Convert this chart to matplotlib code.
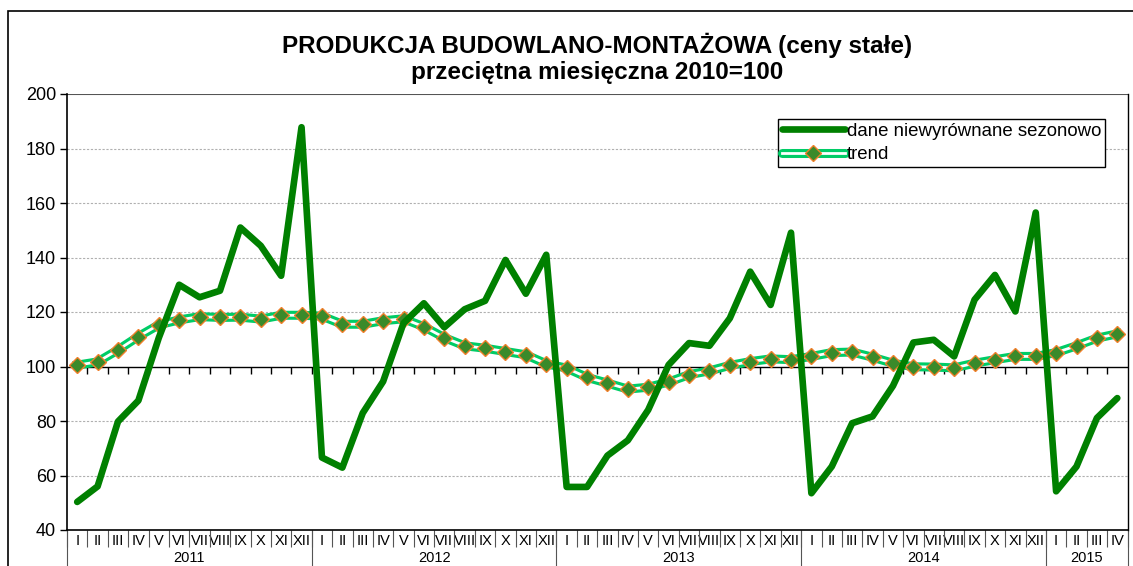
# Produkcja budowlano-montazowa 2011-2015, dane miesieczne (2010=100)
import matplotlib
matplotlib.use("Agg")
import matplotlib.pyplot as plt
from matplotlib.lines import Line2D
from matplotlib.patches import Rectangle
import numpy as np

plt.rcParams['font.family'] = ['Liberation Sans', 'DejaVu Sans']

months = ["I", "II", "III", "IV", "V", "VI", "VII", "VIII", "IX", "X", "XI", "XII"]
years = ["2011", "2012", "2013", "2014", "2015"]
months_per_year = [12, 12, 12, 12, 4]

# dane niewyrownane sezonowo
unadjusted = [50.3, 56.0, 79.8, 87.5, 110.5, 130.0, 125.4, 127.8, 151.0, 144.3, 133.3, 187.8,
              66.6, 62.9, 82.9, 94.5, 115.9, 123.2, 114.4, 121.0, 124.1, 139.1, 126.7, 141.0,
              55.8, 55.8, 67.3, 72.9, 84.1, 100.6, 108.6, 107.6, 117.7, 134.8, 122.6, 149.1,
              53.5, 63.3, 79.2, 81.7, 92.9, 108.8, 109.8, 103.7, 124.5, 133.6, 120.2, 156.5,
              54.2, 63.3, 81.1, 88.4]

trend = [100.5, 101.7, 106.1, 111.0, 115.3, 117.1, 118.3, 118.0, 118.1, 117.4, 118.8, 118.8,
         118.5, 115.5, 115.5, 116.8, 117.5, 114.6, 110.6, 107.6, 106.7, 105.5, 104.3, 101.0,
         99.4, 96.0, 93.9, 91.7, 92.4, 94.3, 97.0, 98.4, 100.4, 101.8, 102.8, 102.5,
         103.7, 105.1, 105.3, 103.4, 101.2, 99.9, 99.8, 99.5, 101.2, 102.5, 103.7, 103.7,
         105.1, 107.6, 110.4, 112.0]

month_labels = []
for n in months_per_year:
    month_labels += months[:n]

x = np.arange(len(unadjusted))
dark_green = "#008000"
light_green = "#00CC66"

fig = plt.figure(figsize=(11.33, 5.66), dpi=100)
ax = fig.add_axes([67 / 1133, 1 - 530 / 566, (1127.5 - 67) / 1133, (530 - 94) / 566])

# outer chart frame
fig.patches.append(Rectangle((8 / 1133, -0.2), 1.2, 1.2 - 11 / 566, transform=fig.transFigure,
                             fill=False, edgecolor="black", lw=1.2, zorder=0))

ax.set_xlim(-0.5, len(x) - 0.5)
ax.set_ylim(40, 200)

# grid
for v in [60, 80, 120, 140, 160, 180]:
    ax.axhline(v, color="#b0b0b0", lw=0.8, ls=(0, (2, 1.5)), zorder=1)
ax.axhline(200, color="#555555", lw=1.5, zorder=1)
ax.axhline(100, color="black", lw=1.0, zorder=2)
bounds = np.arange(1, len(x)) - 0.5
ax.plot(bounds, np.full(len(bounds), 100), ls="none", marker=3, ms=5, mew=1.0,
        color="black", zorder=2)

# series
ax.plot(x, unadjusted, color=dark_green, lw=4.8, solid_joinstyle="round",
        solid_capstyle="round", zorder=4)
ax.plot(x, trend, color=light_green, lw=6.5, zorder=3)
ax.plot(x, trend, color="white", lw=2.0, marker="D", ms=8, mfc="#3a8a2a",
        mec="#f07f2a", mew=1.0, zorder=3)

# spines
ax.spines["top"].set_visible(False)
for s in ["left", "right", "bottom"]:
    ax.spines[s].set_color("black")
ax.spines["left"].set_linewidth(1.2)
ax.spines["right"].set_linewidth(1.0)
ax.spines["bottom"].set_linewidth(1.2)

# y axis
ax.set_yticks(np.arange(40, 201, 20))
ax.tick_params(axis="y", direction="out", length=5, width=1.0, labelsize=13, pad=3)

# month labels and separators
ax.set_xticks(x)
ax.set_xticklabels(month_labels, fontsize=10.5)
ax.tick_params(axis="x", which="major", length=0, pad=3)
ax.set_xticks(np.arange(len(x) + 1) - 0.5, minor=True)
ax.tick_params(axis="x", which="minor", direction="out", length=12, width=0.8, color="#555555")

# year labels and separators
year_edges = np.concatenate([[0], np.cumsum(months_per_year)]) - 0.5
year_centers = (year_edges[:-1] + year_edges[1:]) / 2
sec = ax.secondary_xaxis("bottom")
sec.set_xticks(year_edges)
sec.set_xticklabels([])
sec.tick_params(axis="x", which="major", direction="out", length=26, width=0.8, color="#555555")
sec.set_xticks(year_centers, minor=True)
sec.set_xticklabels(years, minor=True, fontsize=10.5)
sec.tick_params(axis="x", which="minor", length=0, pad=15)
sec.spines["bottom"].set_visible(False)

# legend
h1 = Line2D([], [], color=dark_green, lw=4.8, solid_capstyle="round")
h2a = Line2D([], [], color=light_green, lw=6.5, solid_capstyle="round")
h2b = Line2D([], [], color="white", lw=2.0, marker="D", ms=8, mfc="#3a8a2a",
             mec="#f07f2a", mew=1.0)
leg = ax.legend([h1, (h2a, h2b)], ["dane niewyrównane sezonowo", "trend"],
                loc="upper left", bbox_to_anchor=((778 - 67) / (1127.5 - 67), (530 - 119) / 436),
                fontsize=13.4, frameon=True, fancybox=False, framealpha=1, edgecolor="black",
                handlelength=3.4, handletextpad=0.1, borderpad=0.2, labelspacing=0.35,
                borderaxespad=0)
leg.get_frame().set_linewidth(1.0)

fig.text((67 + 1127.5) / 2 / 1133, 1 - 45 / 566, "PRODUKCJA BUDOWLANO-MONTAŻOWA (ceny stałe)",
         ha="center", va="center", fontsize=17.5, fontweight="bold")
fig.text((67 + 1127.5) / 2 / 1133, 1 - 73 / 566, "przeciętna miesięczna 2010=100",
         ha="center", va="center", fontsize=17.5, fontweight="bold")

fig.savefig("out.png", dpi=100)
